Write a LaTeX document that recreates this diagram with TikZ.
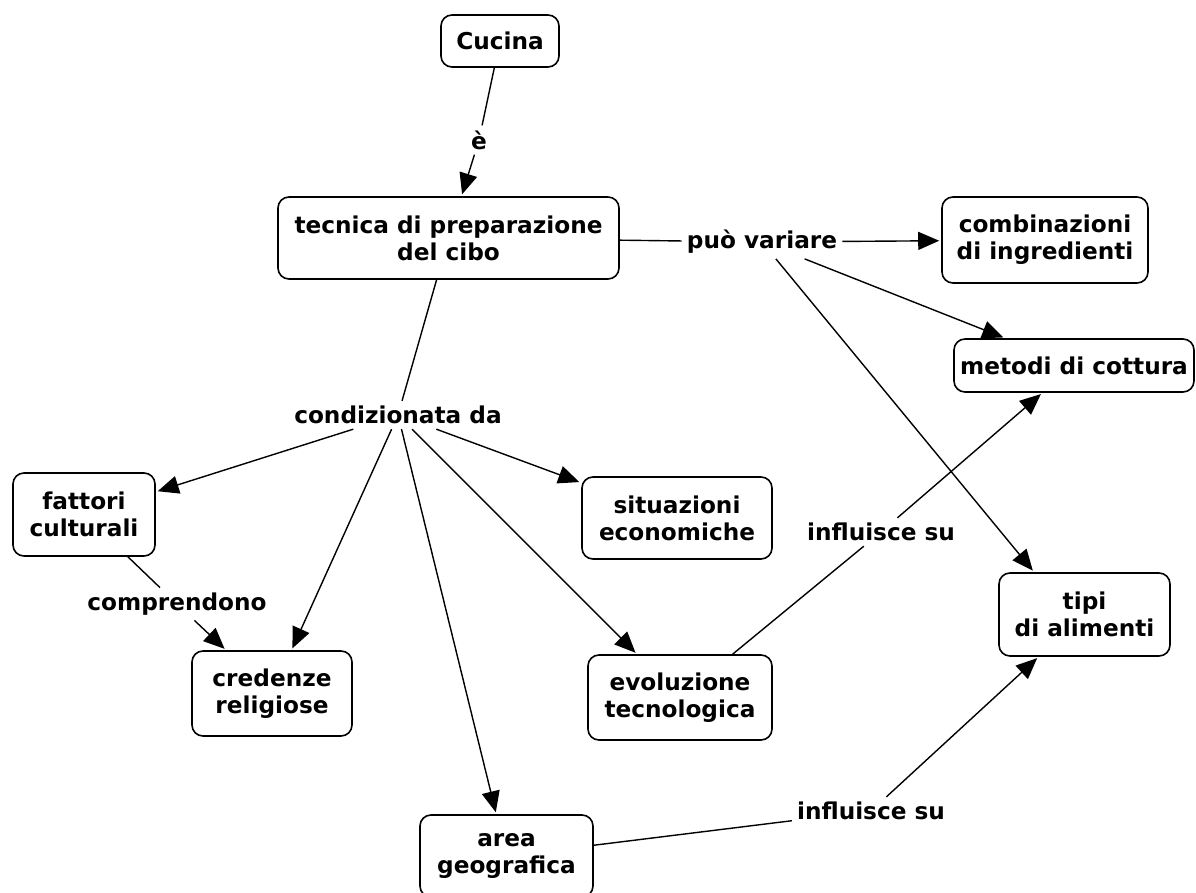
\documentclass[tikz,border=0pt]{standalone}
\usepackage{fontspec}
\setmainfont{DejaVu Sans}
\usetikzlibrary{arrows.meta}
\begin{document}
\begin{tikzpicture}[x=1pt,y=-1pt,
  txt/.style={font=\bfseries\fontsize{23.2}{27}\selectfont},
  concept/.style={txt, draw, line width=1.6pt, rounded corners=11pt, align=center, inner sep=0pt},
  lbl/.style={txt, align=center, inner sep=5pt},
  conn/.style={line width=1.4pt, black},
  arr/.style={conn, -{Triangle[length=21pt,width=18pt]}, shorten >=2pt},
]
\fill[white] (0,0) rectangle (1196,893);
\useasboundingbox (0,0) rectangle (1196,893);

% concepts
\node[concept, minimum width=118pt, minimum height=52pt] (cucina) at (500,41) {Cucina};
\node[concept, minimum width=341pt, minimum height=82pt] (tecnica) at (448.5,238) {tecnica di preparazione\\del cibo};
\node[concept, minimum width=206pt, minimum height=86pt] (combin) at (1045,240) {combinazioni\\di ingredienti};
\node[concept, minimum width=240pt, minimum height=53pt] (metodi) at (1074,365.5) {metodi di cottura};
\node[concept, minimum width=142pt, minimum height=83pt] (fattori) at (84,514.5) {fattori\\culturali};
\node[concept, minimum width=190pt, minimum height=82pt] (situaz) at (677,518) {situazioni\\economiche};
\node[concept, minimum width=160pt, minimum height=85pt] (credenze) at (272,693.5) {credenze\\religiose};
\node[concept, minimum width=184pt, minimum height=85pt] (evol) at (680,697.5) {evoluzione\\tecnologica};
\node[concept, minimum width=171pt, minimum height=83pt] (tipi) at (1084.5,614.5) {tipi\\di alimenti};
\node[concept, minimum width=173pt, minimum height=82pt] (area) at (506.5,856) {area\\geografica};

% linking phrases
\node[lbl] (e) at (479,140) {è};
\node[lbl] (puo) at (762,242) {può variare};
\node[lbl] (cond) at (398,415) {condizionata da};
\node[lbl] (compr) at (177,604) {comprendono};
\node[lbl] (infl1) at (881,532) {influisce su};
\node[lbl] (infl2) at (871,811) {influisce su};

% connectors
\draw[conn] (cucina) -- (e);
\draw[arr] (e) -- (tecnica);
\draw[conn] (tecnica) -- (puo);
\draw[arr] (puo) -- (combin);
\draw[arr] (puo) -- (metodi);
\draw[arr] (puo) -- (tipi.140);
\draw[conn] (tecnica) -- (cond);
\draw[arr] (cond) -- (fattori);
\draw[arr] (cond) -- (credenze);
\draw[arr] (cond) -- (area);
\draw[arr] (cond) -- (evol);
\draw[arr] (cond) -- (situaz);
\draw[conn] (fattori) -- (compr);
\draw[arr] (compr) -- (credenze);
\draw[conn] (evol) -- (infl1);
\draw[arr] (infl1) -- (metodi);
\draw[conn] (area) -- (infl2);
\draw[arr] (infl2) -- (tipi);
\end{tikzpicture}
\end{document}
